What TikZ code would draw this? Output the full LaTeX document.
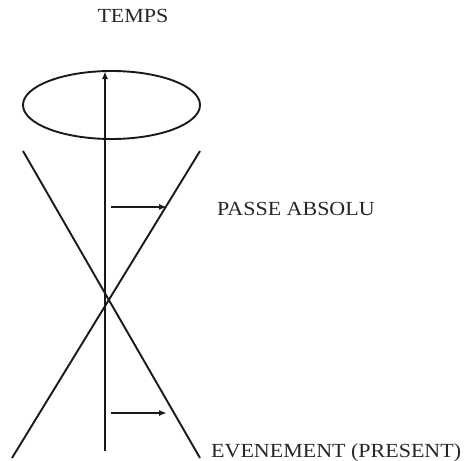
\documentclass[tikz,border=0pt]{standalone}
\usepackage{fontspec}
\setmainfont{Liberation Serif}[FakeStretch=1.1]
\usetikzlibrary{arrows.meta,shapes.geometric}
\begin{document}
\begin{tikzpicture}[x=1pt,y=-1pt,
  ln/.style={line width=1.9pt,draw=black!90},
  arr/.style={ln,-{Latex[length=8pt,width=6pt]}},
  lbl/.style={inner sep=0pt,anchor=base west,font=\fontsize{20}{24}\selectfont,text=black!85}]
\useasboundingbox (0,0) rectangle (470,460);
\node[lbl,anchor=base] (temps) at (133,23) {TEMPS};
\node[lbl] (passe) at (217,215) {PASSE ABSOLU};
\node[lbl] (even) at (211,457) {EVENEMENT (PRESENT)};
\node[ellipse,ln,minimum width=177pt,minimum height=68pt,inner sep=0pt] (ell) at (111.5,105) {};
\coordinate (bot) at (105,451);
\coordinate (top) at (105,71);
\draw[arr] (bot) -- (top);
\coordinate (l1a) at (23,151);
\coordinate (l1b) at (200,458);
\coordinate (l2a) at (200,151);
\coordinate (l2b) at (12,458);
\draw[ln] (l1a) -- (l1b);
\draw[ln] (l2a) -- (l2b);
\coordinate (a1s) at (111,207);
\coordinate (a1e) at (167,207);
\coordinate (a2s) at (111,413);
\coordinate (a2e) at (167,413);
\draw[arr] (a1s) -- (a1e);
\draw[arr] (a2s) -- (a2e);
\end{tikzpicture}
\end{document}
